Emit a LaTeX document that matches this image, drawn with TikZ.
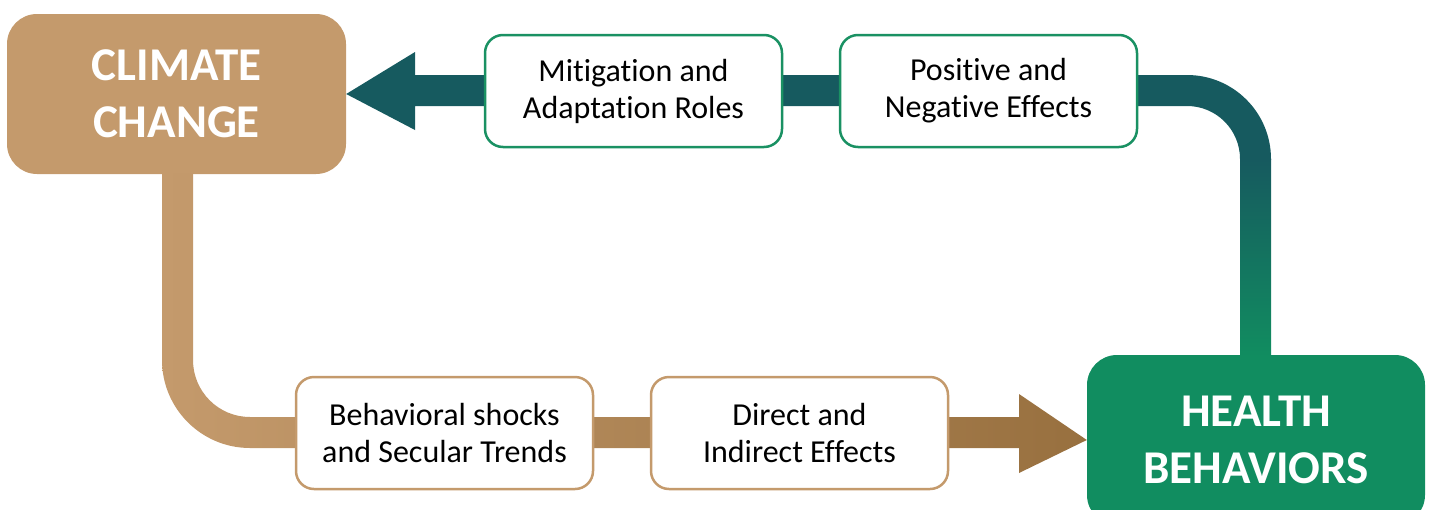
\documentclass[tikz,border=0pt]{standalone}
\usepackage{fontspec}
\setmainfont{Carlito}[Ligatures=NoCommon]
\usetikzlibrary{calc}
\definecolor{tanfill}{HTML}{C49A6C}
\definecolor{tandark}{HTML}{98703F}
\definecolor{tealdark}{HTML}{165A5F}
\definecolor{hbgreen}{HTML}{118D60}
\definecolor{boxgreen}{HTML}{1A9163}
\tikzset{
  bigbox/.style={rounded corners=30pt, inner sep=0pt, text=white, align=center,
    font=\fontsize{47}{57}\selectfont\bfseries},
  smallbox/.style={draw, line width=2.5pt, fill=white, rounded corners=18pt,
    minimum width=297pt, minimum height=112pt, inner sep=0pt, align=center,
    font=\fontsize{32}{37}\selectfont},
}
\begin{document}
\begin{tikzpicture}[x=1pt,y=-1pt]
\useasboundingbox (0,0) rectangle (1434,509);
% main nodes
\node[bigbox, fill=tanfill, minimum width=339pt, minimum height=160pt] (cc) at (176.5,94) {CLIMATE\\CHANGE};
\node[bigbox, fill=hbgreen, minimum width=338pt, minimum height=170pt] (hb) at (1256,440) {HEALTH\\BEHAVIORS};
% teal connector (health behaviors -> climate change)
\coordinate (ttip) at (cc.east);
\begin{scope}
  \clip (ttip) -- (415,52) -- (415,75) -- (1187,75)
    .. controls (1233.4,75) and (1271,112.6) .. (1271,159)
    -- (1271,355.5) -- (1240,355.5) -- (1240,159)
    .. controls (1240,129.7) and (1216.3,106) .. (1187,106)
    -- (415,106) -- (415,130) -- cycle;
  \fill[tealdark] (330,40) rectangle (1300,160);
  \shade[top color=tealdark, bottom color=hbgreen] (330,159.5) rectangle (1300,356);
\end{scope}
% tan connector (climate change -> health behaviors)
\coordinate (atip) at (hb.west);
\begin{scope}
  \clip (162,173) -- (162,360)
    .. controls (162,408.6) and (201.4,448) .. (250,448)
    -- (1019,448) -- (1019,473) -- (atip) -- (1019,394) -- (1019,417)
    -- (250,417) .. controls (218.5,417) and (193,391.5) .. (193,360)
    -- (193,173) -- cycle;
  \shade[left color=tanfill, right color=tandark] (162,170) rectangle (1087,480);
\end{scope}
% intermediate boxes
\node[smallbox, draw=boxgreen] (m) at (633.5,91) {Mitigation and\\Adaptation Roles};
\node[smallbox, draw=boxgreen] (p) at (988.5,91) {Positive and\\Negative Effects};
\node[smallbox, draw=tanfill] (b) at (444.5,433) {Behavioral shocks\\and Secular Trends};
\node[smallbox, draw=tanfill] (d) at (799.5,433) {Direct and\\Indirect Effects};
\end{tikzpicture}
\end{document}
